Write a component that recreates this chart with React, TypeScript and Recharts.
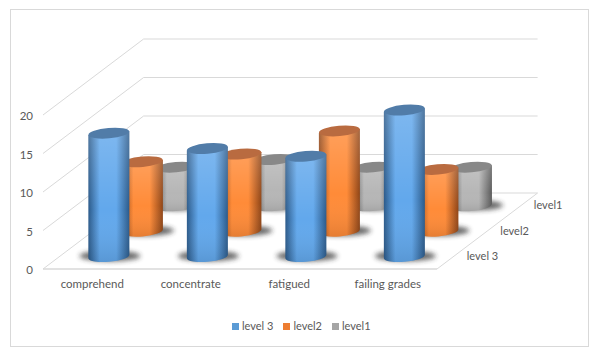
import React from "react";
import { BarChart, Bar, XAxis, YAxis, CartesianGrid, Legend } from "recharts";

const categories = ["comprehend", "concentrate", "fatigued", "failing grades"];
const level3 = [16, 14, 13, 19];
const level2 = [9, 10, 13, 8];
const level1 = [5, 6, 5, 5];
const yTicks = [0, 5, 10, 15, 20];
const seriesNames = ["level 3", "level2", "level1"];
const seriesKeys = ["level3", "level2", "level1"];
const swatches = ["#5b9bd5", "#ed7d31", "#a5a5a5"];

const rows = categories.map((name, i) => ({
  name,
  level3: level3[i],
  level2: level2[i],
  level1: level1[i],
}));

const FONT = "Lato, 'Open Sans', sans-serif";
const TEXT = "#595959";
const GRID = "#d9d9d9";
const DEPTH_X = 100.6;
const DEPTH_Y = 76;
const BAR = 41;
const SLOT_X = DEPTH_X / 3;
const SLOT_Y = DEPTH_Y / 3;
const TILT = 1.8;
const RY = 5.4;

const palette = [
  { id: "b", dark: "#2b5a8a", mid: "#62a8ec", cap: "#517ca8" },
  { id: "o", dark: "#8f4517", mid: "#ff8b38", cap: "#b96b40" },
  { id: "g", dark: "#5a5a5a", mid: "#b6b6b6", cap: "#888888" },
];

function Cylinder(props: any, slot: number) {
  const { x, y, width, height } = props;
  const c = palette[slot];
  const cx = x + width / 2 + SLOT_X * (slot + 0.5) - 0.4;
  const off = SLOT_Y * (slot + 0.5);
  const top = y - off;
  const base = y + height - off;
  const rx = width / 2;
  const body = `M${cx - rx} ${top + TILT} L${cx - rx} ${base + TILT} A${rx} ${RY} -5 0 0 ${cx + rx} ${base - TILT} L${cx + rx} ${top - TILT} Z`;
  return (
    <g>
      <ellipse cx={cx + 1} cy={base - 0.4} rx={rx + 10} ry={RY - 0.2} fill="#2a2a2a" opacity={0.72} filter="url(#soft)" />
      <path d={body} fill={`url(#h-${c.id})`} />
      <path d={body} fill={`url(#v-${c.id})`} />
      <ellipse cx={cx} cy={top} rx={rx} ry={RY - 0.2} fill={c.cap} transform={`rotate(-5 ${cx} ${top})`} />
    </g>
  );
}

function gridLine(p: any) {
  const { x1, x2, y1 } = p;
  const isFloor = Math.abs(y1 - 269) < 1;
  return (
    <g key={p.key ?? y1}>
      <line x1={x1} y1={y1} x2={x1 + DEPTH_X} y2={y1 - DEPTH_Y} stroke={GRID} strokeWidth={1} />
      <line x1={x1 + DEPTH_X} y1={y1 - DEPTH_Y} x2={x2 + DEPTH_X} y2={y1 - DEPTH_Y} stroke={GRID} strokeWidth={1} />
      {isFloor && (
        <g>
          <line x1={x1} y1={y1} x2={x2} y2={y1} stroke={GRID} strokeWidth={1.4} />
          <line x1={x2} y1={y1} x2={x2 + DEPTH_X} y2={y1 - DEPTH_Y} stroke={GRID} strokeWidth={1} />
          {seriesNames.map((s, i) => (
            <text
              key={s}
              x={x2 + SLOT_X * (i + 0.5) + 13}
              y={y1 - SLOT_Y * (i + 0.5) + 1}
              fill={TEXT}
              fontSize={11}
              fontFamily={FONT}
              dominantBaseline="middle"
            >
              {s}
            </text>
          ))}
        </g>
      )}
    </g>
  );
}

function LegendBox() {
  return (
    <div style={{ display: "flex", fontFamily: FONT, fontSize: 11, color: TEXT, lineHeight: "14px" }}>
      {seriesNames.map((s, i) => (
        <div key={s} style={{ display: "flex", alignItems: "center", marginRight: 10 }}>
          <span style={{ width: 7, height: 7, background: swatches[i], marginRight: 3, display: "inline-block" }} />
          <span>{s}</span>
        </div>
      ))}
    </div>
  );
}

export default function App() {
  return (
    <div style={{ position: "absolute", left: 0, top: 0, width: 594, height: 353, background: "#fff" }}>
      <div
        style={{
          position: "absolute",
          left: 10,
          top: 9,
          width: 577,
          height: 336,
          border: `1px solid ${GRID}`,
        }}
      />
      <BarChart
        width={594}
        height={353}
        data={rows}
        margin={{ top: 115, right: 157, bottom: 54, left: 8 }}
        barSize={BAR}
        barGap={-BAR}
        style={{ position: "absolute", left: 0, top: 0 }}
      >
        <defs>
          <filter id="soft" x="-30%" y="-80%" width="160%" height="260%">
            <feGaussianBlur stdDeviation="2.4" />
          </filter>
          {palette.map((c) => (
            <linearGradient key={c.id} id={`h-${c.id}`} x1="0" y1="0" x2="1" y2="0">
              <stop offset="0" stopColor={c.dark} />
              <stop offset="0.28" stopColor={c.mid} />
              <stop offset="0.68" stopColor={c.mid} />
              <stop offset="1" stopColor={c.dark} />
            </linearGradient>
          ))}
          {palette.map((c) => (
            <linearGradient key={c.id} id={`v-${c.id}`} x1="0" y1="0" x2="0" y2="1">
              <stop offset="0" stopColor="#ffffff" stopOpacity={0.18} />
              <stop offset="0.6" stopColor="#ffffff" stopOpacity={0} />
              <stop offset="1" stopColor="#000000" stopOpacity={0.1} />
            </linearGradient>
          ))}
        </defs>
        <CartesianGrid vertical={false} horizontal={gridLine as any} />
        <XAxis
          dataKey="name"
          height={30}
          axisLine={false}
          tickLine={false}
          tickSize={0}
          tickMargin={11}
          interval={0}
          tick={{ fill: TEXT, fontSize: 11.5, fontFamily: FONT }}
        />
        <YAxis
          width={35}
          domain={[0, 20]}
          ticks={yTicks}
          axisLine={false}
          tickLine={false}
          tickSize={0}
          tickMargin={10}
          tick={{ fill: TEXT, fontSize: 11.5, fontFamily: FONT, dy: 1 }}
        />
        <Legend
          layout="horizontal"
          verticalAlign="middle"
          align="center"
          content={<LegendBox />}
          wrapperStyle={{ position: "absolute", left: 232, top: 319, width: 160, height: 14 }}
        />
        <Bar dataKey={seriesKeys[2]} name={seriesNames[2]} isAnimationActive={false} shape={(p: any) => Cylinder(p, 2)} />
        <Bar dataKey={seriesKeys[1]} name={seriesNames[1]} isAnimationActive={false} shape={(p: any) => Cylinder(p, 1)} />
        <Bar dataKey={seriesKeys[0]} name={seriesNames[0]} isAnimationActive={false} shape={(p: any) => Cylinder(p, 0)} />
      </BarChart>
    </div>
  );
}
